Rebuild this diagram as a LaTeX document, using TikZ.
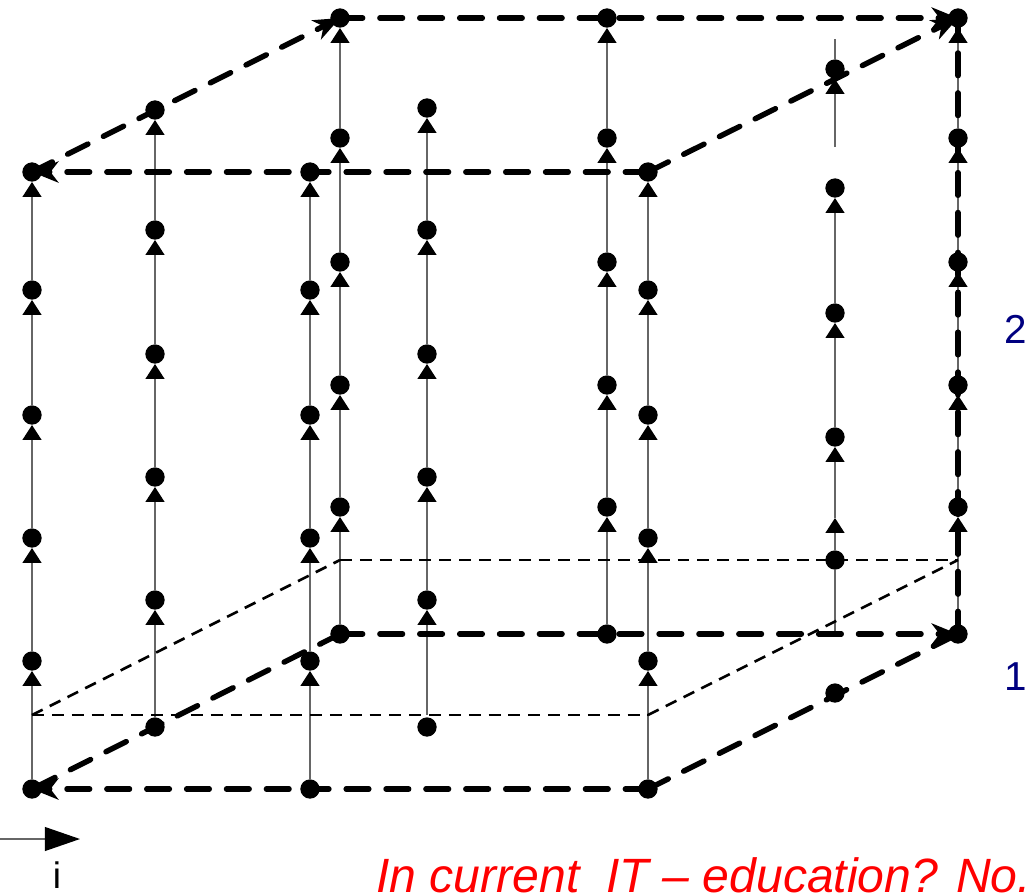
\documentclass[tikz,border=0pt]{standalone}
\usepackage{fontspec}
\setmainfont{Liberation Sans}
\usetikzlibrary{arrows.meta}
\pgfdeclarelayer{bg}
\pgfsetlayers{bg,main}
\definecolor{navyblue}{RGB}{0,0,128}
\tikzset{
 dot/.style={circle,fill=black,inner sep=0pt,minimum size=11pt},
 vline/.style={draw=black!60,line width=0.75pt,-{Triangle[length=8.5pt,width=10.8pt,color=black]}},
 plainline/.style={draw=black!60,line width=0.75pt},
 bigdash/.style={line width=3.1pt,line cap=round,dash pattern=on 12.9pt off 9.8pt},
 bigarrow/.style={-{Stealth[length=15pt,width=12pt,inset=4.5pt]}},
 smalldash/.style={line width=1.5pt,dash pattern=on 6.8pt off 4.5pt},
 numlabel/.style={text=navyblue,font=\fontsize{23}{27}\selectfont,inner sep=0pt},
}
\begin{document}
\begin{tikzpicture}[x=0.02cm,y=-0.02cm]
\useasboundingbox (0,0) rectangle (1034,894);
% columns of dots
\foreach \n/\y in {1/789,2/661,3/538,4/415,5/290,6/172}{
  \node[dot] (a\n) at (32,\y) {};
  \node[dot] (c\n) at (310,\y) {};
  \node[dot] (g\n) at (648,\y) {};
}
\foreach \n/\y in {1/727,2/600,3/477,4/354,5/230,6/110}{
  \node[dot] (b\n) at (155,\y) {};
}
\foreach \n/\y in {1/634,2/507,3/385,4/262,5/138,6/18}{
  \node[dot] (d\n) at (340,\y) {};
  \node[dot] (f\n) at (607,\y) {};
  \node[dot] (k\n) at (958,\y) {};
}
\foreach \n/\y in {1/727,2/600,3/477,4/354,5/230,6/108}{
  \node[dot] (e\n) at (427,\y) {};
}
\coordinate (e0) at (427,715);
\node[dot] (h1) at (835,693) {};
\coordinate (h0) at (835,634);
\node[dot] (h2) at (835,560) {};
\coordinate (hm) at (835,518);
\node[dot] (h3) at (835,437) {};
\node[dot] (h4) at (835,313) {};
\node[dot] (h5) at (835,188) {};
\coordinate (hb) at (835,147);
\node[dot] (h6) at (835,69) {};
\coordinate (ht) at (835,39);
% thin dashed plane
\coordinate (p1) at (32,715);
\coordinate (p2) at (648,715);
\coordinate (p3) at (340,560);
\coordinate (p4) at (958,560);
% labels
\node[numlabel] (two) at (1016,329) {2};
\node[numlabel] (one) at (1016,677) {1};
\node[inner sep=0pt,font=\fontsize{21}{25}\selectfont] (ilab) at (57,875) {i};
\coordinate (ia) at (0,839);
\coordinate (ib) at (80,839);
\node[anchor=base west,text=red,inner sep=0pt,font=\itshape\fontsize{27.4}{30}\selectfont] (note) at (376,892) {In current\ \ IT -- education? No.};
\begin{pgfonlayer}{bg}
% vertical thin arrows
\foreach \c in {a,b,c,d,f,g,k}{
  \foreach \i [evaluate=\i as \j using int(\i+1)] in {1,...,5}{
    \draw[vline] (\c\i) -- (\c\j);
  }
}
\draw[vline] (e0) -- (e2);
\foreach \i [evaluate=\i as \j using int(\i+1)] in {2,...,5}{
  \draw[vline] (e\i) -- (e\j);
}
\draw[plainline] (h0) -- (h2);
\draw[vline] (h2) -- (hm);
\draw[vline] (hm) -- (h3);
\draw[vline] (h3) -- (h4);
\draw[vline] (h4) -- (h5);
\draw[vline] (hb) -- (h6);
\draw[plainline] (h6) -- (ht);
% thin dashed plane
\draw[smalldash] (p1) -- (p2);
\draw[smalldash] (p1) -- (p3);
\draw[smalldash] (p3) -- (p4);
\draw[smalldash] (p2) -- (p4);
% thick dashed edges
\draw[bigdash,bigarrow] (g6.center) -- (a6.center);
\draw[bigdash,bigarrow] (a6.center) -- (d6.center);
\draw[bigdash,bigarrow] (d6.center) -- (k6.center);
\draw[bigdash,bigarrow] (g6.center) -- (k6.center);
\draw[bigdash] (k1.center) -- (k6.center);
\draw[bigdash,bigarrow] (d1.center) -- (k1.center);
\draw[bigdash,bigarrow] (g1.center) -- (a1.center);
\draw[bigdash] (d1.center) -- (a1.center);
\draw[bigdash] (g1.center) -- (k1.center);
% i arrow
\draw[draw=black!60,line width=0.75pt,-{Triangle[length=20pt,width=13.6pt,color=black]}] (ia) -- (ib);
\end{pgfonlayer}
\end{tikzpicture}
\end{document}
